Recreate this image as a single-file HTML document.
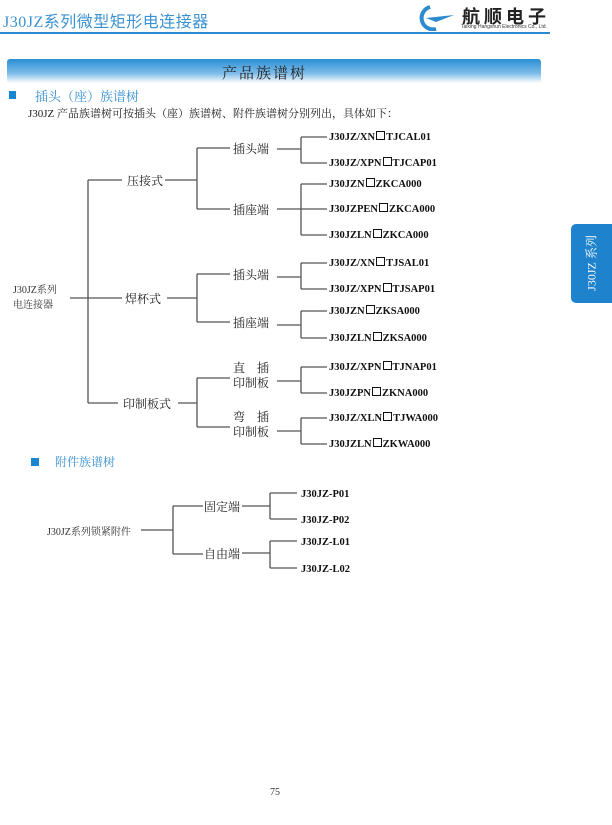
<!DOCTYPE html>
<html><head><meta charset="utf-8"><style>
body{margin:0;width:612px;height:825px;background:#fff;position:relative;overflow:hidden;font-family:"Liberation Serif","Noto Serif CJK SC",serif}
.a{position:absolute;white-space:nowrap}
.b{display:inline-block;width:7px;height:7px;border:1.3px solid #111;margin:0 1px;vertical-align:0px}
</style></head><body>
<div class="a" style="left:3px;top:8px;font-size:16px;color:#3a92d2;letter-spacing:0.5px;font-family:'Liberation Serif','Noto Sans CJK SC',sans-serif">J30JZ系列微型矩形电连接器</div>
<div style="position:absolute;left:0;top:32px;width:550px;height:2px;background:#2b8ad0"></div>
<svg class="a" style="left:416px;top:5px" width="40" height="26" viewBox="0 0 40 26"><path d="M14 2 A11 11 0 1 0 20 24" stroke="#2b8ad0" stroke-width="4" fill="none"/><path d="M10 13 L38 10 L20 17 Z" fill="#2b8ad0"/></svg>
<div class="a" style="left:462px;top:3px;font-size:18px;font-weight:bold;letter-spacing:4px;color:#222;font-family:'Noto Sans CJK SC',sans-serif">航顺电子</div>
<div class="a" style="left:461px;top:24px;font-size:5px;color:#333;font-family:'Liberation Sans',sans-serif">Taixing Hangshun Electronics Co., Ltd.</div>
<div style="position:absolute;left:7px;top:59px;width:534px;height:24px;border-radius:3px;background:linear-gradient(#2a8ed4,#7dbce8 60%,#fff)"></div>
<div class="a" style="left:222px;top:62px;font-size:15px;letter-spacing:2px;color:#222">产品族谱树</div>
<div style="position:absolute;left:9px;top:91px;width:7px;height:8px;background:#1a86cf"></div>
<div class="a" style="left:35px;top:86px;font-size:13px;color:#3a92d2">插头（座）族谱树</div>
<div class="a" style="left:28px;top:105px;font-size:11px;color:#222">J30JZ 产品族谱树可按插头（座）族谱树、附件族谱树分别列出，具体如下：</div>
<div style="position:absolute;left:571px;top:224px;width:41px;height:79px;background:#1e82cc;border-radius:5px 0 0 5px"></div>
<div class="a" style="left:591px;top:263px;transform:translate(-50%,-50%) rotate(-90deg);font-size:12px;color:#fff">J30JZ 系列</div>

<svg class="a" style="left:0;top:0" width="612" height="825">
<g stroke="#555" stroke-width="1.3" fill="none">
<path d="M70 298H122M88 180V403M88 180H122M88 403H118"/>
<path d="M165 180H197M197 148V209M197 148H230M197 209H230"/>
<path d="M277 149H301M301 137V163M301 137H327M301 163H327"/>
<path d="M277 209H327M301 184V235M301 184H327M301 235H327"/>
<path d="M167 298H197M197 274V322M197 274H230M197 322H230"/>
<path d="M277 277H301M301 263V289M301 263H327M301 289H327"/>
<path d="M277 325H301M301 311V338M301 311H327M301 338H327"/>
<path d="M178 403H197M197 378V427M197 378H230M197 427H230"/>
<path d="M277 381H301M301 367V393M301 367H327M301 393H327"/>
<path d="M277 431H301M301 418V444M301 418H327M301 444H327"/>
<path d="M141 530H173M173 506V554M173 506H203M173 554H203"/>
<path d="M242 506H270M270 493V519M270 493H297M270 519H297"/>
<path d="M242 553H270M270 541V568M270 541H297M270 568H297"/>
</g>
</svg>
<div class="a" style="left:13px;top:283px;font-size:10px;color:#333;line-height:15px">J30JZ系列<br>电连接器</div>
<div class="a" style="left:127px;top:172px;font-size:12px;color:#222">压接式</div>
<div class="a" style="left:125px;top:290px;font-size:12px;color:#222">焊杯式</div>
<div class="a" style="left:123px;top:395px;font-size:12px;color:#222">印制板式</div>
<div class="a" style="left:233px;top:140px;font-size:12px;color:#222">插头端</div>
<div class="a" style="left:233px;top:201px;font-size:12px;color:#222">插座端</div>
<div class="a" style="left:233px;top:266px;font-size:12px;color:#222">插头端</div>
<div class="a" style="left:233px;top:314px;font-size:12px;color:#222">插座端</div>
<div class="a" style="left:233px;top:361px;font-size:12px;color:#222;line-height:15px">直&nbsp;&nbsp;&nbsp;&nbsp;插<br>印制板</div>
<div class="a" style="left:233px;top:410px;font-size:12px;color:#222;line-height:15px">弯&nbsp;&nbsp;&nbsp;&nbsp;插<br>印制板</div>
<div style="position:absolute;left:329px;top:131px;font-size:10.5px;font-weight:bold;color:#111;line-height:13px">
<div class="a" style="top:0">J30JZ/XN<span class="b"></span>TJCAL01</div>
<div class="a" style="top:26px">J30JZ/XPN<span class="b"></span>TJCAP01</div>
<div class="a" style="top:47px">J30JZN<span class="b"></span>ZKCA000</div>
<div class="a" style="top:72px">J30JZPEN<span class="b"></span>ZKCA000</div>
<div class="a" style="top:98px">J30JZLN<span class="b"></span>ZKCA000</div>
<div class="a" style="top:126px">J30JZ/XN<span class="b"></span>TJSAL01</div>
<div class="a" style="top:152px">J30JZ/XPN<span class="b"></span>TJSAP01</div>
<div class="a" style="top:174px">J30JZN<span class="b"></span>ZKSA000</div>
<div class="a" style="top:201px">J30JZLN<span class="b"></span>ZKSA000</div>
<div class="a" style="top:230px">J30JZ/XPN<span class="b"></span>TJNAP01</div>
<div class="a" style="top:256px">J30JZPN<span class="b"></span>ZKNA000</div>
<div class="a" style="top:281px">J30JZ/XLN<span class="b"></span>TJWA000</div>
<div class="a" style="top:307px">J30JZLN<span class="b"></span>ZKWA000</div>
</div>
<div style="position:absolute;left:31px;top:458px;width:8px;height:8px;background:#1a86cf"></div>
<div class="a" style="left:55px;top:453px;font-size:12px;color:#3a92d2">附件族谱树</div>
<div class="a" style="left:47px;top:523px;font-size:10px;color:#333">J30JZ系列锁紧附件</div>
<div class="a" style="left:204px;top:498px;font-size:12px;color:#222">固定端</div>
<div class="a" style="left:204px;top:545px;font-size:12px;color:#222">自由端</div>
<div style="position:absolute;left:301px;top:488px;font-size:10.5px;font-weight:bold;color:#111;line-height:13px">
<div class="a" style="top:0">J30JZ-P01</div>
<div class="a" style="top:26px">J30JZ-P02</div>
<div class="a" style="top:48px">J30JZ-L01</div>
<div class="a" style="top:75px">J30JZ-L02</div>
</div>
<div class="a" style="left:270px;top:787px;font-size:10px;color:#333">75</div>
</body></html>
